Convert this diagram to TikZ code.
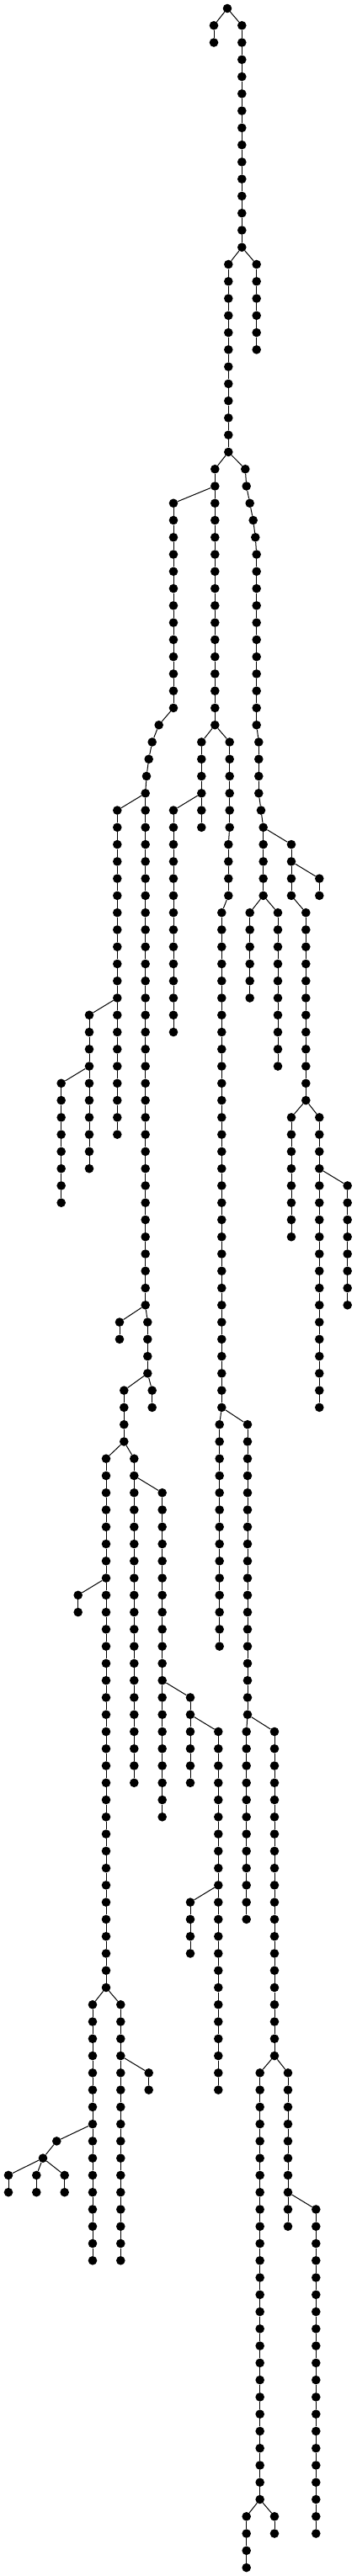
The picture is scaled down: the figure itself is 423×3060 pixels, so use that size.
\documentclass[tikz,border=0pt]{standalone}
\begin{document}
\begin{tikzpicture}[x=1pt,y=1pt,
  dot/.style={circle,fill=black,draw=none,inner sep=0pt,minimum size=10.6pt},
  edge/.style={draw=black,line width=1pt}]
\fill[white] (0,0) rectangle (423,-3060);
\useasboundingbox (0,0) rectangle (423,-3060);
\newcommand{\vchain}[4]{%
  \foreach \rw [remember=\rw as \lastr (initially -1)] in {#3,...,#4}{%
    \node[dot] (#1-\rw) at (#2,{-10-20.267*\rw}) {};
    \ifnum\lastr>-1 \draw[edge] (#1-\lastr) -- (#1-\rw);\fi
  }%
}
\newcommand{\pchain}[2]{%
  \foreach \rw/\xw [remember=\rw as \lastr (initially -1)] in {#2}{%
    \node[dot] (#1-\rw) at (\xw,{-10-20.267*\rw}) {};
    \ifnum\lastr>-1 \draw[edge] (#1-\lastr) -- (#1-\rw);\fi
  }%
}
% chains
\vchain{A}{270}{0}{0}
\vchain{B}{254}{1}{2}
\vchain{C}{287.3}{1}{14}
\vchain{D}{304.7}{15}{20}
\vchain{E}{271.3}{15}{26}
\vchain{F}{255.3}{27}{42}
\pchain{G}{27/291.3,28/292.7,29/296.7,30/300.7,31/303.3}
\vchain{G}{304.7}{32}{42}
\vchain{G}{307.3}{43}{46}
\pchain{G}{47/310}
\vchain{G}{312.7}{48}{52}
\vchain{H}{206}{29}{41}
\pchain{H}{42/188.7,43/180.7,44/176.7,45/174,46/172.7}
\vchain{H}{172.7}{47}{76}
\vchain{I}{139.3}{47}{66}
\vchain{J}{106}{59}{68}
\vchain{K}{72.7}{63}{70}
\vchain{L}{239.3}{43}{48}
\vchain{M}{206}{47}{60}
\vchain{N}{272.7}{43}{48}
\vchain{N}{271.3}{49}{52}
\vchain{N}{263.3}{53}{82}
\vchain{O}{346}{49}{52}
\vchain{O}{363.3}{53}{64}
\vchain{P}{379.3}{51}{52}
\vchain{S}{296.7}{53}{58}
\vchain{T}{330}{53}{62}
\vchain{Q}{346}{65}{72}
\vchain{R}{379.3}{65}{82}
\vchain{U}{412.7}{69}{76}
\vchain{V}{142}{77}{78}
\vchain{W}{175.3}{77}{80}
\vchain{Y}{180.7}{81}{82}
\vchain{X}{147.3}{81}{84}
\vchain{Za}{126}{85}{116}
\vchain{AA}{92.7}{93}{94}
\vchain{Zb}{159.3}{85}{104}
\vchain{AD}{192.7}{87}{106}
\vchain{AE}{226}{99}{104}
\vchain{AF}{259.3}{101}{122}
\vchain{AG}{226}{111}{114}
\vchain{AH}{260.7}{83}{96}
\vchain{AI}{294}{83}{100}
\vchain{AJ}{292.7}{101}{112}
\vchain{AK}{326}{101}{120}
\vchain{AL}{308.7}{121}{146}
\vchain{AN}{292.7}{147}{150}
\vchain{AO}{326}{147}{148}
\vchain{AM}{342}{121}{130}
\vchain{AP}{375.3}{129}{148}
\vchain{AB}{110}{117}{132}
\vchain{AC}{143.3}{117}{132}
\vchain{AR}{176.7}{121}{122}
\pchain{AQ}{125/67.3,126/51}
\vchain{AS}{10}{127}{128}
\vchain{AT}{43.3}{127}{128}
\vchain{AU}{76.7}{127}{128}
% links between chains
\draw[edge] (A-0) -- (B-1);
\draw[edge] (A-0) -- (C-1);
\draw[edge] (C-14) -- (D-15);
\draw[edge] (C-14) -- (E-15);
\draw[edge] (E-26) -- (F-27);
\draw[edge] (E-26) -- (G-27);
\draw[edge] (G-31) -- (G-32);
\draw[edge] (G-42) -- (G-43);
\draw[edge] (G-46) -- (G-47);
\draw[edge] (G-47) -- (G-48);
\draw[edge] (F-28) -- (H-29);
\draw[edge] (H-41) -- (H-42);
\draw[edge] (H-46) -- (H-47);
\draw[edge] (H-46) -- (I-47);
\draw[edge] (I-58) -- (J-59);
\draw[edge] (J-62) -- (K-63);
\draw[edge] (F-42) -- (L-43);
\draw[edge] (L-46) -- (M-47);
\draw[edge] (F-42) -- (N-43);
\draw[edge] (N-48) -- (N-49);
\draw[edge] (N-52) -- (N-53);
\draw[edge] (G-48) -- (O-49);
\draw[edge] (O-52) -- (O-53);
\draw[edge] (O-50) -- (P-51);
\draw[edge] (G-52) -- (S-53);
\draw[edge] (G-52) -- (T-53);
\draw[edge] (O-64) -- (Q-65);
\draw[edge] (O-64) -- (R-65);
\draw[edge] (R-68) -- (U-69);
\draw[edge] (H-76) -- (V-77);
\draw[edge] (H-76) -- (W-77);
\draw[edge] (W-80) -- (Y-81);
\draw[edge] (W-80) -- (X-81);
\draw[edge] (X-84) -- (Za-85);
\draw[edge] (X-84) -- (Zb-85);
\draw[edge] (Za-92) -- (AA-93);
\draw[edge] (Zb-86) -- (AD-87);
\draw[edge] (AD-98) -- (AE-99);
\draw[edge] (AE-100) -- (AF-101);
\draw[edge] (AF-110) -- (AG-111);
\draw[edge] (N-82) -- (AH-83);
\draw[edge] (N-82) -- (AI-83);
\draw[edge] (AI-100) -- (AJ-101);
\draw[edge] (AI-100) -- (AK-101);
\draw[edge] (AK-120) -- (AL-121);
\draw[edge] (AK-120) -- (AM-121);
\draw[edge] (AL-146) -- (AN-147);
\draw[edge] (AL-146) -- (AO-147);
\draw[edge] (AM-128) -- (AP-129);
\draw[edge] (Za-116) -- (AB-117);
\draw[edge] (Za-116) -- (AC-117);
\draw[edge] (AC-120) -- (AR-121);
\draw[edge] (AB-124) -- (AQ-125);
\draw[edge] (AQ-126) -- (AS-127);
\draw[edge] (AQ-126) -- (AT-127);
\draw[edge] (AQ-126) -- (AU-127);
\end{tikzpicture}
\end{document}
